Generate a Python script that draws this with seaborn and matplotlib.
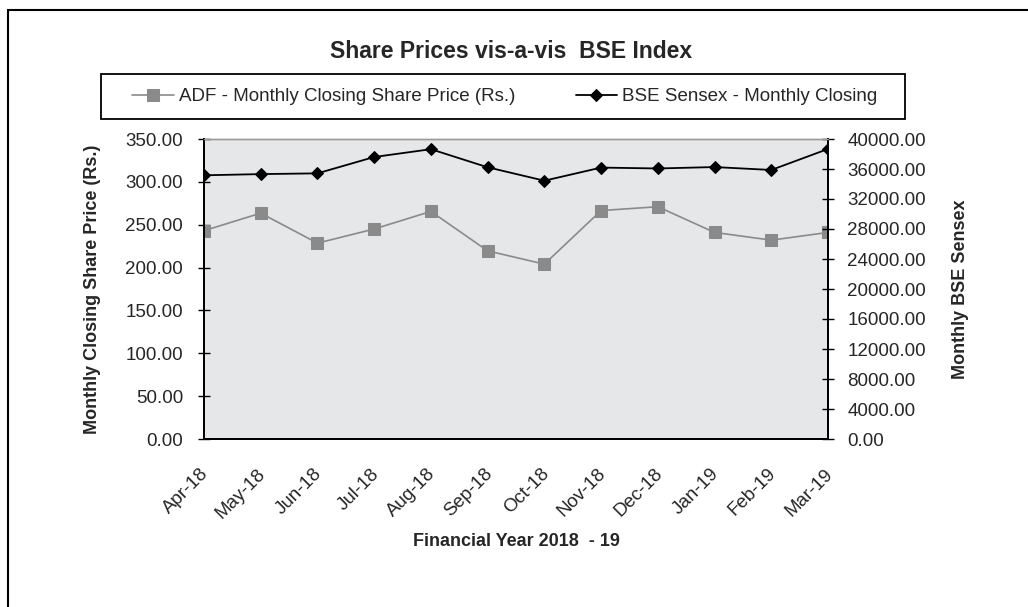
import matplotlib
matplotlib.use('Agg')
import matplotlib.pyplot as plt
import matplotlib.transforms as mtransforms
import seaborn as sns
import pandas as pd
from matplotlib.patches import Rectangle

# ---------------------------- DATA ---------------------------------
months = ["Apr-18", "May-18", "Jun-18", "Jul-18", "Aug-18", "Sep-18",
          "Oct-18", "Nov-18", "Dec-18", "Jan-19", "Feb-19", "Mar-19"]
adf_price = [243.0, 263.5, 228.5, 245.0, 265.5, 219.5,
             204.0, 266.5, 271.0, 241.0, 232.0, 241.0]
bse_sensex = [35160, 35320, 35420, 37600, 38640, 36230,
              34440, 36190, 36070, 36260, 35870, 38670]

left_ticks = [0, 50, 100, 150, 200, 250, 300, 350]
right_ticks = list(range(0, 40001, 4000))

ADF_COLOR = "#8a8a8a"
BSE_COLOR = "#000000"
BG_COLOR = "#e6e7e9"

W, H = 1028, 607

# ---------------------------- PLOT ---------------------------------
sns.set_style("white")
plt.rcParams['font.family'] = ['Liberation Sans', 'DejaVu Sans']

df = pd.DataFrame({"x": range(len(months)), "adf": adf_price, "bse": bse_sensex})

fig = plt.figure(figsize=(W / 100, H / 100), dpi=100)
ax = fig.add_axes([204 / W, 1 - 439 / H, 624 / W, 300 / H])
ax.set_facecolor(BG_COLOR)
ax2 = ax.twinx()

sns.lineplot(data=df, x="x", y="adf", ax=ax, color=ADF_COLOR, marker="s",
             markersize=9, markeredgecolor=ADF_COLOR, linewidth=1.2,
             label="ADF - Monthly Closing Share Price (Rs.)", legend=False)
sns.lineplot(data=df, x="x", y="bse", ax=ax2, color=BSE_COLOR, marker="D",
             markersize=6, markeredgecolor=BSE_COLOR, linewidth=1.3,
             label="BSE Sensex - Monthly Closing", legend=False)

ax.set_xlim(0, len(months) - 1)
ax.set_ylim(0, 350)
ax2.set_ylim(0, 40000)
ax.set_xticks(range(len(months)))
ax.set_xticklabels(months, rotation=45, ha="right", rotation_mode="anchor")
ax.set_yticks(left_ticks)
ax.set_yticklabels([f"{v:.2f}" for v in left_ticks])
ax2.set_yticks(right_ticks)
ax2.set_yticklabels([f"{v:.2f}" for v in right_ticks])

ax.tick_params(axis="both", direction="inout", length=8, width=1,
               labelsize=13.5, color="black")
ax.tick_params(axis="y", pad=11)
ax.tick_params(axis="x", pad=15)
ax2.tick_params(axis="y", direction="inout", length=8, width=1,
                labelsize=13.5, color="black", pad=10)

# nudge the rotated month labels a little to the left
shift = mtransforms.ScaledTranslation(-4 / 100, 0, fig.dpi_scale_trans)
for lbl in ax.get_xticklabels():
    lbl.set_transform(lbl.get_transform() + shift)

for a in (ax, ax2):
    for side in ("left", "bottom", "right"):
        a.spines[side].set_color("black")
        a.spines[side].set_linewidth(1.4)
    a.spines["top"].set_color("#9a9a9a")
    a.spines["top"].set_linewidth(1.0)

ax.set_xlabel("Financial Year 2018  - 19", fontsize=13, fontweight="bold", labelpad=8)
ax.set_ylabel("Monthly Closing Share Price (Rs.)", fontsize=13, fontweight="bold")
ax.yaxis.set_label_coords(-103 / 624, 0.5)
ax2.set_ylabel("Monthly BSE Sensex", fontsize=13, fontweight="bold")
ax2.yaxis.set_label_coords(1 + 124 / 624, 0.5)

fig.text(0.497, 1 - 52 / H, "Share Prices vis-a-vis  BSE Index", ha="center",
         va="center", fontsize=16.5, fontweight="bold")

# legend box drawn separately so its padding matches the reference
h1, l1 = ax.get_legend_handles_labels()
h2, l2 = ax2.get_legend_handles_labels()
leg = fig.legend(h1 + h2, l1 + l2, loc="center", ncol=2,
                 bbox_to_anchor=(505 / W, 1 - 96.5 / H),
                 fontsize=13.5, frameon=False, handlelength=2.2,
                 handletextpad=0.3, columnspacing=3.2, borderaxespad=0)
fig.patches.append(Rectangle((101 / W, 1 - 119 / H), 804 / W, 45 / H,
                             transform=fig.transFigure, fill=False,
                             edgecolor="black", linewidth=1.3))

# outer chart border (runs off the right and bottom of the picture)
fig.patches.append(Rectangle((7.5 / W, -0.05), 1.2, 1 - 10 / H + 0.05,
                             transform=fig.transFigure, fill=False,
                             edgecolor="black", linewidth=1.5))

fig.savefig("out.png", dpi=100)
